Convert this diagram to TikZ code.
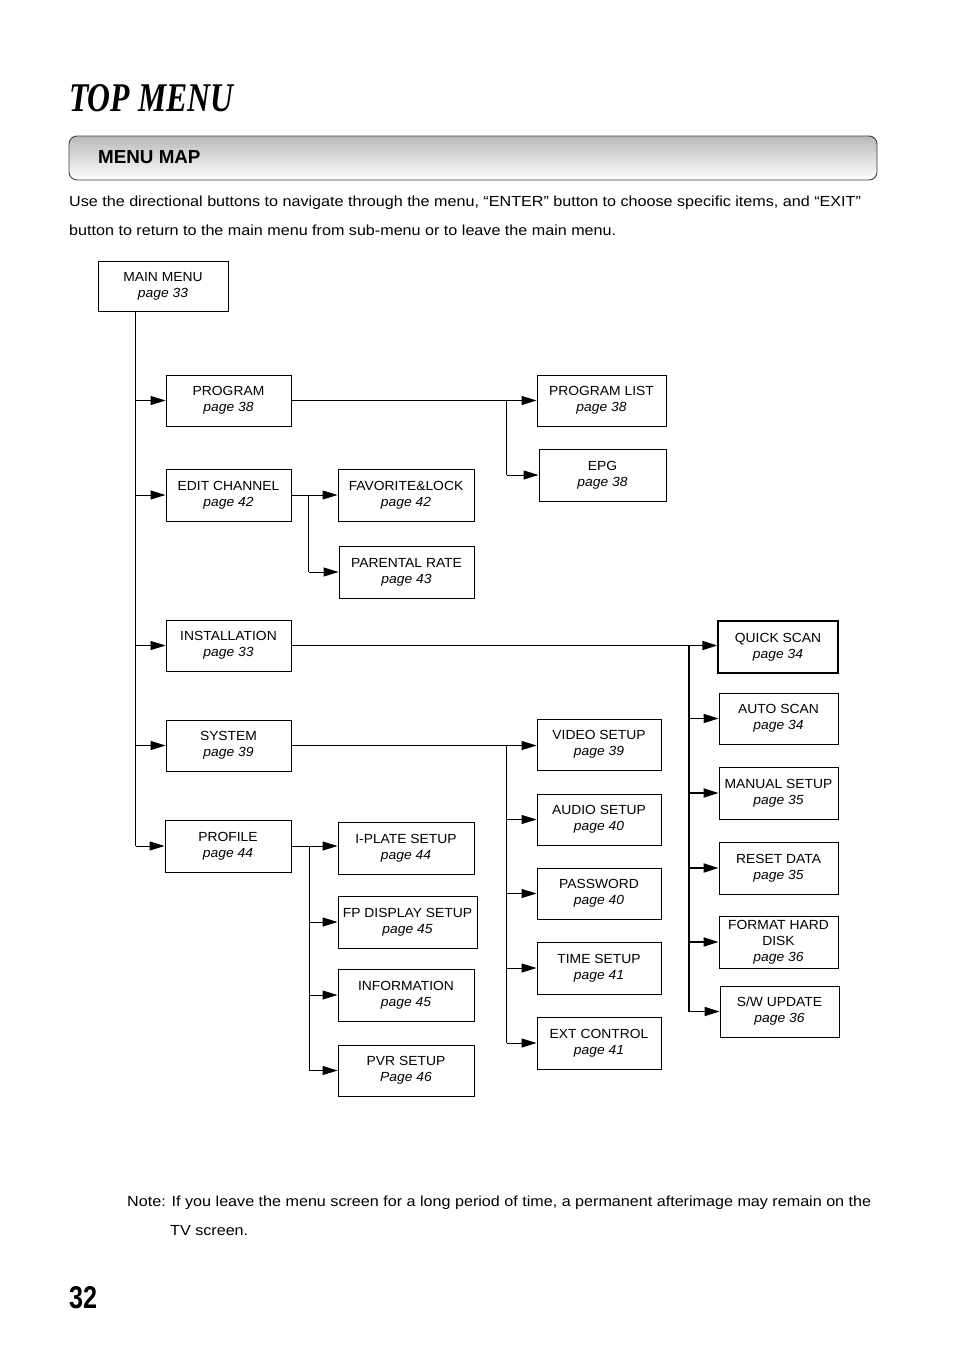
\documentclass[tikz,border=0pt]{standalone}
\usepackage{fontspec}
\setmainfont{Liberation Sans}
\newfontfamily\serifB{Liberation Serif}
\newfontfamily\bodyf{Liberation Sans}[FakeStretch=1.105]
\newfontfamily\boxf{Liberation Sans}[FakeStretch=1.05]
\usetikzlibrary{arrows.meta,calc}
\tikzset{
  mbox/.style={draw, line width=0.9pt, align=center, inner sep=0pt,
    font=\boxf\fontsize{13.2}{16}\selectfont},
  thin/.style={line width=0.9pt},
  thick2/.style={line width=1.8pt},
  arr/.style={-{Triangle[length=15pt,width=9pt]}},
  bodytxt/.style={font=\bodyf\fontsize{14.6}{16}\selectfont, inner sep=0pt, anchor=base west},
}
\newcommand{\pg}[1]{\textit{#1}}
\begin{document}
\begin{tikzpicture}[x=1pt,y=-1pt]
\useasboundingbox (0,0) rectangle (954,1350);
% title
\node[anchor=south west, inner sep=0pt] (title) at (69,112) {\resizebox{164pt}{27pt}{\serifB\bfseries\itshape TOP MENU}};
% banner
\path[draw=black!75, line width=0.9pt, rounded corners=8pt, top color=gray!55, bottom color=white] (69,136) rectangle (877,180);
\node[anchor=base west, inner sep=0pt, font=\fontsize{18.8}{20}\selectfont\bfseries] (mm) at (98,163) {MENU MAP};
\node[bodytxt] (l1) at (69,206) {Use the directional buttons to navigate through the menu, “ENTER” button to choose specific items, and “EXIT”};
\node[bodytxt] (l2) at (69,235) {button to return to the main menu from sub-menu or to leave the main menu.};

% boxes
\node[mbox, minimum width=130pt, minimum height=50pt] (main) at (163,286) {MAIN MENU\\\pg{page 33}};
\node[mbox, minimum width=125pt, minimum height=51pt] (prog) at (228.5,400.5) {PROGRAM\\\pg{page 38}};
\node[mbox, minimum width=129pt, minimum height=51pt] (plist) at (601.5,400.5) {PROGRAM LIST\\\pg{page 38}};
\node[mbox, minimum width=127pt, minimum height=52pt] (epg) at (602.5,475) {EPG\\\pg{page 38}};
\node[mbox, minimum width=125pt, minimum height=52pt] (edit) at (228.5,495) {EDIT CHANNEL\\\pg{page 42}};
\node[mbox, minimum width=136pt, minimum height=52pt] (fav) at (406,495) {FAVORITE\&LOCK\\\pg{page 42}};
\node[mbox, minimum width=135pt, minimum height=52pt] (par) at (406.5,572) {PARENTAL RATE\\\pg{page 43}};
\node[mbox, minimum width=125pt, minimum height=51pt] (inst) at (228.5,645.5) {INSTALLATION\\\pg{page 33}};
\node[mbox, minimum width=120pt, minimum height=52pt, line width=1.3pt] (qs) at (778,647) {QUICK SCAN\\\pg{page 34}};
\node[mbox, minimum width=119pt, minimum height=51pt] (auto) at (778.5,718.5) {AUTO SCAN\\\pg{page 34}};
\node[mbox, minimum width=119pt, minimum height=52pt] (man) at (778.5,793) {MANUAL SETUP\\\pg{page 35}};
\node[mbox, minimum width=119pt, minimum height=52pt] (reset) at (778.5,868) {RESET DATA\\\pg{page 35}};
\node[mbox, minimum width=119pt, minimum height=52pt] (fmt) at (778.5,942) {FORMAT HARD\\DISK\\\pg{page 36}};
\node[mbox, minimum width=119pt, minimum height=51pt] (sw) at (779.5,1011.5) {S/W UPDATE\\\pg{page 36}};
\node[mbox, minimum width=125pt, minimum height=51pt] (sys) at (228.5,745.5) {SYSTEM\\\pg{page 39}};
\node[mbox, minimum width=124pt, minimum height=51pt] (vid) at (599,744.5) {VIDEO SETUP\\\pg{page 39}};
\node[mbox, minimum width=124pt, minimum height=51pt] (aud) at (599,819.5) {AUDIO SETUP\\\pg{page 40}};
\node[mbox, minimum width=124pt, minimum height=51pt] (pw) at (599,893.5) {PASSWORD\\\pg{page 40}};
\node[mbox, minimum width=124pt, minimum height=52pt] (time) at (599,968) {TIME SETUP\\\pg{page 41}};
\node[mbox, minimum width=124pt, minimum height=52pt] (ext) at (599,1043) {EXT CONTROL\\\pg{page 41}};
\node[mbox, minimum width=126pt, minimum height=52pt] (prof) at (228,846) {PROFILE\\\pg{page 44}};
\node[mbox, minimum width=136pt, minimum height=52pt] (ipl) at (406,848) {I-PLATE SETUP\\\pg{page 44}};
\node[mbox, minimum width=139pt, minimum height=52pt] (fp) at (407.5,922) {FP DISPLAY SETUP\\\pg{page 45}};
\node[mbox, minimum width=136pt, minimum height=52pt] (info) at (406,995) {INFORMATION\\\pg{page 45}};
\node[mbox, minimum width=136pt, minimum height=51pt] (pvr) at (406,1070.5) {PVR SETUP\\\pg{Page 46}};

% trunk
\coordinate (trunk) at ($(main.south west)+(38,0)$);
\draw[line width=1.1pt] (trunk) -- (trunk |- prof.west);
\foreach \n in {prog,edit,inst,sys,prof}
  \draw[thin,arr] (trunk |- \n.west) -- (\n.west);

% program
\draw[thin,arr] (prog.east) -- (plist.west);
\coordinate (bp) at ($(plist.west)+(-30,0)$);
\draw[thick2] (bp) -- (bp |- epg.west);
\draw[thin,arr] (bp |- epg.west) -- (epg.west);

% edit channel
\draw[thin,arr] (edit.east) -- (fav.west);
\coordinate (be) at ($(fav.west)+(-29,0)$);
\draw[thick2] (be) -- (be |- par.west);
\draw[thin,arr] (be |- par.west) -- (par.west);

% installation
\coordinate (qsin) at (inst.east -| qs.west);
\draw[thick2,arr] (inst.east) -- (qsin);
\coordinate (bi) at ($(qsin)+(-28,0)$);
\draw[thick2] (bi) -- (bi |- sw.west);
\foreach \n in {auto,man,reset,fmt,sw}
  \draw[thick2,arr] (bi |- \n.west) -- (\n.west);

% system
\coordinate (vidin) at (sys.east -| vid.west);
\draw[thin,arr] (sys.east) -- (vidin);
\coordinate (bs) at ($(vidin)+(-30,0)$);
\draw[thick2] (bs) -- (bs |- ext.west);
\foreach \n in {aud,pw,time,ext}
  \draw[thin,arr] (bs |- \n.west) -- (\n.west);

% profile
\coordinate (iplin) at (prof.east -| ipl.west);
\draw[thin,arr] (prof.east) -- (iplin);
\coordinate (bf) at ($(iplin)+(-28,0)$);
\draw[thick2] (bf) -- (bf |- pvr.west);
\foreach \n in {fp,info,pvr}
  \draw[thin,arr] (bf |- \n.west) -- (\n.west);

% note
\node[bodytxt] (n1) at (127,1206) {Note: If you leave the menu screen for a long period of time, a permanent afterimage may remain on the};
\node[bodytxt] (n2) at (170,1235) {TV screen.};
\node[anchor=south west, inner sep=0pt] (pnum) at (69,1309) {\resizebox{28pt}{22pt}{\bfseries 32}};
\end{tikzpicture}
\end{document}
